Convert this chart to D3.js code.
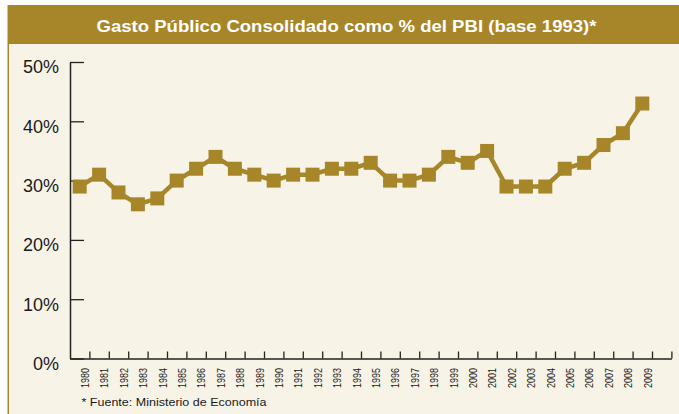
<!DOCTYPE html>
<html><head><meta charset="utf-8">
<script src="https://cdn.jsdelivr.net/npm/d3@7"></script>
<style>html,body{margin:0;padding:0;background:#fff;}svg{display:block;}</style>
</head><body>
<script>
const years = ["1980","1981","1982","1983","1984","1985","1986","1987","1988","1989","1990","1991","1992","1993","1994","1995","1996","1997","1998","1999","2000","2001","2002","2003","2004","2005","2006","2007","2008","2009"];
const values = [29,31,28,26,27,30,32,34,32,31,30,31,31,32,32,33,30,30,31,34,33,35,29,29,29,32,33,36,38,43];
const yTicks = [0,10,20,30,40,50];
const title = "Gasto Público Consolidado como % del PBI (base 1993)*";
const footnote = "* Fuente: Ministerio de Economía";

const W = 679, H = 414;
const gold = "#A7862A", cream = "#F7F4E7";
const svg = d3.select("body").append("svg").attr("width", W).attr("height", H);

// frame
svg.append("rect").attr("x",0).attr("y",0).attr("width",W).attr("height",H).attr("fill","#fff");
svg.append("rect").attr("x",8).attr("y",44).attr("width",W-8).attr("height",H-44).attr("fill",cream);
svg.append("rect").attr("x",7.5).attr("y",5).attr("width",1.5).attr("height",H-5).attr("fill",gold);
svg.append("rect").attr("x",8).attr("y",5).attr("width",W-8).attr("height",39).attr("fill",gold);
svg.append("text").attr("x",346.5).attr("y",31.5).attr("text-anchor","middle")
  .attr("font-family","Liberation Sans, Arial, sans-serif").attr("font-weight","bold")
  .attr("font-size",16.5).attr("fill","#fff")
  .attr("textLength",500).attr("lengthAdjust","spacingAndGlyphs").text(title);

const nBands = years.length + 1;
const x = d3.scaleLinear().domain([0, nBands]).range([70, 671.4]);
const y = d3.scaleLinear().domain([0, 50]).range([358.5, 62]);

// y axis
const yAxis = d3.axisLeft(y).tickValues(yTicks).tickSizeInner(-14).tickSizeOuter(0)
  .tickPadding(11).tickFormat(d => d + "%");
const gy = svg.append("g").attr("transform","translate(70,0)").call(yAxis);
gy.select(".domain").attr("stroke","#222").attr("stroke-width",1.5);
gy.selectAll(".tick line").attr("stroke","#222").attr("stroke-width",1.3);
gy.selectAll(".tick text").attr("font-family","Liberation Sans, Arial, sans-serif")
  .attr("font-size",18).attr("fill","#1a1a1a").attr("dy","0.6em");

// x axis
const xAxis = d3.axisBottom(x).tickValues(d3.range(1, nBands + 1)).tickSizeInner(-7)
  .tickSizeOuter(0).tickFormat("");
const gx = svg.append("g").attr("transform","translate(0,358.5)").call(xAxis);
gx.select(".domain").attr("stroke","#222").attr("stroke-width",1.5);
gx.selectAll(".tick line").attr("stroke","#222").attr("stroke-width",1.3);

// x labels
svg.append("g").selectAll("text").data(years).join("text")
  .attr("transform",(d,i) => `translate(${x(i+0.5)+9.3},368) rotate(-90)`)
  .attr("text-anchor","end")
  .attr("font-family","Liberation Sans, Arial, sans-serif").attr("font-size",11.5)
  .attr("fill","#1a1a1a").attr("textLength",20).attr("lengthAdjust","spacingAndGlyphs")
  .text(d => d);

// line
const line = d3.line().x((d,i) => x(i+0.5)).y(d => y(d));
svg.append("path").datum(values).attr("d",line).attr("fill","none")
  .attr("stroke",gold).attr("stroke-width",4.5).attr("stroke-linejoin","round");
const s = 14;
svg.append("g").selectAll("rect").data(values).join("rect")
  .attr("x",(d,i) => x(i+0.5) - s/2).attr("y",d => y(d) - s/2)
  .attr("width",s).attr("height",s).attr("fill",gold);

// footnote
svg.append("text").attr("x",81.5).attr("y",405.5)
  .attr("font-family","Liberation Sans, Arial, sans-serif").attr("font-size",11.5)
  .attr("fill","#1a1a1a").attr("textLength",185).attr("lengthAdjust","spacingAndGlyphs")
  .text(footnote);
</script>
</body></html>
